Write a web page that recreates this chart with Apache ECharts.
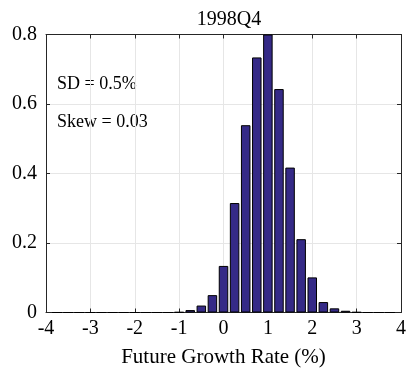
<!DOCTYPE html>
<html>
<head>
<meta charset="utf-8">
<script src="https://cdn.jsdelivr.net/npm/echarts@6/dist/echarts.min.js"></script>
<style>html,body{margin:0;padding:0;background:#fff}#c{width:409px;height:375px}</style>
</head>
<body>
<div id="c"></div>
<script>
var chartTitle = '1998Q4';
var xAxisName = 'Future Growth Rate (%)';
var annotations = ['SD = 0.5%', 'Skew = 0.03'];
var xTicks = [-4, -3, -2, -1, 0, 1, 2, 3, 4];
var yTicks = [0, 0.2, 0.4, 0.6, 0.8];
var binCenters = [-1.5, -1.25, -1.0, -0.75, -0.5, -0.25, 0, 0.25, 0.5, 0.75, 1.0, 1.25, 1.5, 1.75, 2.0, 2.25, 2.5, 2.75, 3.0, 3.25];
var density =    [0, 0, 0.001, 0.007, 0.02, 0.05, 0.134, 0.315, 0.539, 0.734, 0.80, 0.643, 0.417, 0.211, 0.101, 0.030, 0.012, 0.005, 0.001, 0];
var emptyLeft = [-3.75, -3.5, -3.25, -3.0, -2.75, -2.5, -2.25, -2.0, -1.75];
var emptyRight = [3.5, 3.75];

var FONT = 'Liberation Serif';
var data = [];
emptyLeft.forEach(function (x) { data.push([x, 0]); });
binCenters.forEach(function (x, i) { data.push([x, density[i]]); });
emptyRight.forEach(function (x) { data.push([x, 0]); });

var chart = echarts.init(document.getElementById('c'), null, {renderer: 'canvas'});
var axisLineStyle = {color: '#262626', width: 1};
var gridLine = {show: true, lineStyle: {color: '#e6e6e6', width: 1}};
chart.setOption({
  animation: false,
  backgroundColor: '#fff',
  title: {
    text: chartTitle, left: 224, top: 5, textAlign: 'center',
    textStyle: {fontFamily: FONT, fontSize: 20, fontWeight: 'normal', color: '#000'}
  },
  grid: {left: 46, right: 6.5, top: 34.5, bottom: 62.5, containLabel: false},
  xAxis: [{
    type: 'value', min: xTicks[0], max: xTicks[xTicks.length - 1], interval: 1,
    name: xAxisName, nameLocation: 'middle', nameGap: 34,
    nameTextStyle: {fontFamily: FONT, fontSize: 21, color: '#000'},
    axisLine: {show: true, onZero: false, lineStyle: axisLineStyle},
    axisTick: {show: true, inside: true, length: 4, lineStyle: axisLineStyle},
    axisLabel: {fontFamily: FONT, fontSize: 20, color: '#000', margin: 6},
    splitLine: gridLine
  }, {
    type: 'value', position: 'top', min: xTicks[0], max: xTicks[xTicks.length - 1], interval: 1,
    axisLine: {show: true, onZero: false, lineStyle: axisLineStyle},
    axisTick: {show: true, inside: true, length: 4, lineStyle: axisLineStyle},
    axisLabel: {show: false}, splitLine: {show: false}
  }],
  yAxis: [{
    type: 'value', min: yTicks[0], max: yTicks[yTicks.length - 1], interval: 0.2,
    axisLine: {show: true, onZero: false, lineStyle: axisLineStyle},
    axisTick: {show: true, inside: true, length: 4, lineStyle: axisLineStyle},
    axisLabel: {fontFamily: FONT, fontSize: 20, color: '#000', margin: 9},
    splitLine: gridLine
  }, {
    type: 'value', position: 'right', min: yTicks[0], max: yTicks[yTicks.length - 1], interval: 0.2,
    axisLine: {show: true, onZero: false, lineStyle: axisLineStyle},
    axisTick: {show: true, inside: true, length: 4, lineStyle: axisLineStyle},
    axisLabel: {show: false}, splitLine: {show: false}
  }],
  graphic: [
    {type: 'text', left: 57, top: 75, style: {text: annotations[0], font: '18px "Liberation Serif"', fill: '#000'}},
    {type: 'text', left: 57, top: 113, style: {text: annotations[1], font: '18px "Liberation Serif"', fill: '#000'}}
  ],
  series: [{
    type: 'bar', xAxisIndex: 0, yAxisIndex: 0,
    data: data, barWidth: 9.5, clip: true,
    itemStyle: {color: '#352A87', borderColor: '#000', borderWidth: 1}
  }]
});
</script>
</body>
</html>
